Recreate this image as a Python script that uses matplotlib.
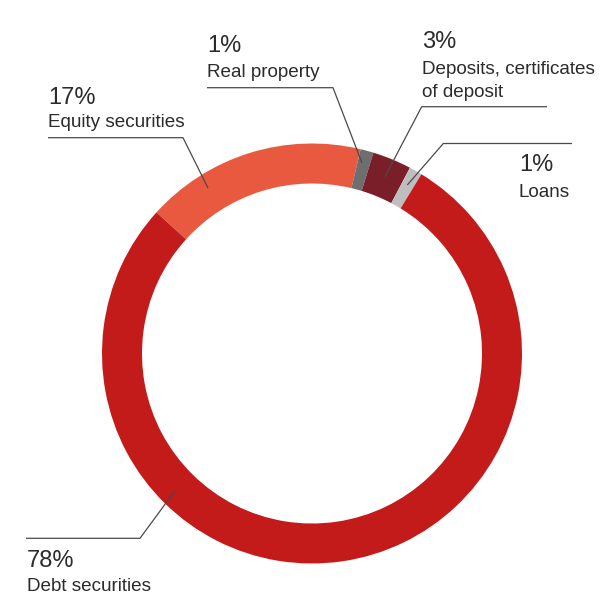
import matplotlib
matplotlib.use("Agg")
import matplotlib.pyplot as plt

# Portfolio composition (percent)
categories = ["Equity securities", "Real property", "Deposits, certificates\nof deposit", "Loans", "Debt securities"]
shares = [17, 1, 3, 1, 78]
share_labels = ["17%", "1%", "3%", "1%", "78%"]
colors = ["#E8593F", "#6E6E6E", "#7A1F29", "#BEBEBE", "#C21B1A"]

W, H = 605, 595
fig = plt.figure(figsize=(W / 100, H / 100), dpi=100)
ax = fig.add_axes([0, 0, 1, 1])

def py(y):
    # pixel row (from the top) to axis y
    return H - y

cx, cy, r_out, ring = 312, 353.5, 210, 40
ax.pie(shares, colors=colors, startangle=137.8, counterclock=False,
       center=(cx, py(cy)), radius=r_out,
       wedgeprops=dict(width=ring, linewidth=0))

ax.set_xlim(0, W)
ax.set_ylim(0, H)
ax.set_aspect("equal")
ax.axis("off")

font = ["Liberation Sans", "DejaVu Sans"]
text_color = "#2b2b2b"
line_color = "#4a4a4a"
pct_size = 17
name_size = 13.6

# leader lines: horizontal rule then elbow to the ring
leaders = [
    [(48, 137.7), (183, 137.7), (208, 188)],          # equity
    [(207, 87.7), (333, 87.7), (362, 163)],           # real property
    [(547, 106.7), (421.7, 106.7), (385, 176.7)],     # deposits
    [(572, 143.5), (443.3, 143.5), (407.3, 185)],     # loans
    [(26, 538.3), (140, 538.3), (175, 490.7)],        # debt
]
for pts in leaders:
    xs = [p[0] for p in pts]
    ys = [py(p[1]) for p in pts]
    ax.plot(xs, ys, color=line_color, lw=0.9, solid_capstyle="butt")

# label anchors: (x, baseline of percent, baseline of name)
anchors = [
    (48, 103.5, 127),
    (207, 51.5, 77),
    (421.7, 47.7, 74.3),
    (519, 171, 197),
    (27, 567, 591),
]
for (x, yb_pct, yb_name), pct, name in zip(anchors, share_labels, categories):
    ax.text(x, py(yb_pct), pct, fontsize=pct_size, color=text_color,
            family=font, ha="left", va="baseline")
    lines = name.split("\n")
    for i, ln in enumerate(lines):
        ax.text(x, py(yb_name + i * 22.4), ln, fontsize=name_size, color=text_color,
                family=font, ha="left", va="baseline")

fig.savefig("out.png", dpi=100, facecolor="white")
